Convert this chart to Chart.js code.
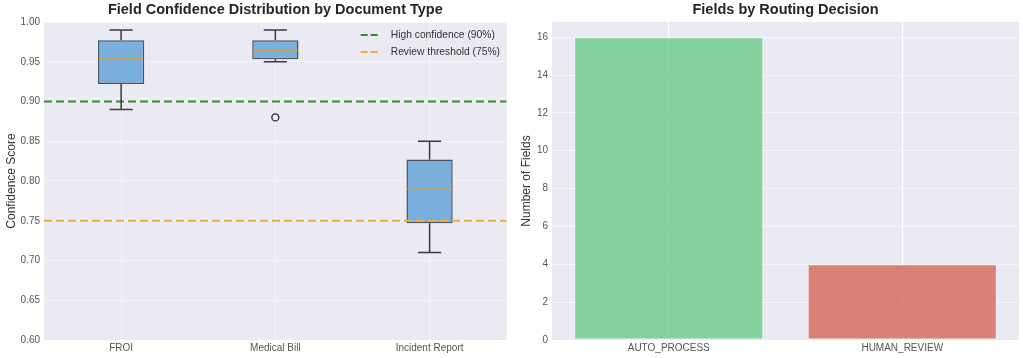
<!DOCTYPE html>
<html>
<head>
<meta charset="utf-8">
<script src="https://cdn.jsdelivr.net/npm/chart.js@4.4.1/dist/chart.umd.min.js"></script>
<style>
  html, body { margin: 0; padding: 0; background: #ffffff; }
  #wrap { position: relative; width: 1023px; height: 358px; overflow: hidden; }
  #left { position: absolute; left: 0; top: 0; }
  #right { position: absolute; left: 512px; top: 0; }
</style>
</head>
<body>
<div id="wrap">
  <canvas id="left" width="512" height="358"></canvas>
  <canvas id="right" width="511" height="358"></canvas>
</div>
<script>
// ---------- data ----------
const docTypes = ['FROI', 'Medical Bill', 'Incident Report'];
const whiskerLow = [0.89, 0.95, 0.71];
const q1 = [0.922, 0.953, 0.747];
const median = [0.954, 0.964, 0.79];
const q3 = [0.977, 0.977, 0.827];
const whiskerHigh = [0.99, 0.99, 0.85];
const outliers = [[], [0.88], []];
const thresholdLabels = ['High confidence (90%)', 'Review threshold (75%)'];
const thresholdValues = [0.90, 0.75];
const confTicks = [0.60, 0.65, 0.70, 0.75, 0.80, 0.85, 0.90, 0.95, 1.00];

const routes = ['AUTO_PROCESS', 'HUMAN_REVIEW'];
const routeCounts = [16, 4];
const countTicks = [0, 2, 4, 6, 8, 10, 12, 14, 16];

// ---------- styles ----------
Chart.defaults.font.family = "'Liberation Sans', Arial, sans-serif";
Chart.defaults.color = '#333';
const PLOT_BG = '#eaeaf2';
const TICK_COLOR = '#555';
const thresholdColors = ['#3a8a2e', '#f4aa3c'];

const bgPlugin = {
  id: 'plotBg',
  beforeDraw(chart) {
    const { ctx, chartArea: a } = chart;
    ctx.save();
    ctx.fillStyle = PLOT_BG;
    ctx.fillRect(a.left, a.top, a.right - a.left, a.bottom - a.top);
    ctx.restore();
  }
};

const boxPlugin = {
  id: 'boxDetails',
  afterDatasetsDraw(chart) {
    const { ctx } = chart;
    const ys = chart.scales.y;
    const meta = chart.getDatasetMeta(0);
    ctx.save();
    docTypes.forEach((d, i) => {
      const cx = meta.data[i].x;
      const bw = meta.data[i].width;
      const capHalf = bw / 4;
      ctx.strokeStyle = '#3a3a3a';
      ctx.lineWidth = 1.5;
      ctx.beginPath();
      ctx.moveTo(cx, ys.getPixelForValue(q3[i]));
      ctx.lineTo(cx, ys.getPixelForValue(whiskerHigh[i]));
      ctx.moveTo(cx - capHalf, ys.getPixelForValue(whiskerHigh[i]));
      ctx.lineTo(cx + capHalf, ys.getPixelForValue(whiskerHigh[i]));
      ctx.moveTo(cx, ys.getPixelForValue(q1[i]));
      ctx.lineTo(cx, ys.getPixelForValue(whiskerLow[i]));
      ctx.moveTo(cx - capHalf, ys.getPixelForValue(whiskerLow[i]));
      ctx.lineTo(cx + capHalf, ys.getPixelForValue(whiskerLow[i]));
      ctx.stroke();
      ctx.strokeStyle = '#c4a460';
      ctx.lineWidth = 1.5;
      ctx.beginPath();
      const my = ys.getPixelForValue(median[i]);
      ctx.moveTo(cx - bw / 2 + 1, my);
      ctx.lineTo(cx + bw / 2 - 1, my);
      ctx.stroke();
    });
    ctx.restore();
  }
};

const legendPlugin = {
  id: 'innerLegend',
  afterDraw(chart) {
    const { ctx, chartArea: a } = chart;
    ctx.save();
    ctx.font = "10.3px 'Liberation Sans', Arial, sans-serif";
    const textX = a.right - 116;
    const lineX1 = textX - 10;
    const lineX0 = lineX1 - 20;
    thresholdLabels.forEach((t, i) => {
      const y = a.top + 13 + i * 17;
      ctx.strokeStyle = thresholdColors[i];
      ctx.lineWidth = 2;
      ctx.setLineDash([7, 3]);
      ctx.beginPath();
      ctx.moveTo(lineX0, y);
      ctx.lineTo(lineX1, y);
      ctx.stroke();
      ctx.setLineDash([]);
      ctx.fillStyle = '#333';
      ctx.textBaseline = 'middle';
      ctx.textAlign = 'left';
      ctx.fillText(t, textX, y);
    });
    ctx.restore();
  }
};

// ---------- left: box plot ----------
const boxDatasets = [
  {
    type: 'bar',
    label: 'box',
    data: docTypes.map((d, i) => [q1[i], q3[i]]),
    backgroundColor: 'rgb(122,174,220)',
    borderColor: '#4a525c',
    borderWidth: 1.5,
    borderSkipped: false,
    grouped: false,
    barPercentage: 0.30,
    categoryPercentage: 1.0,
    order: 3
  },
  {
    type: 'line',
    label: 'outliers',
    data: outliers.flatMap((arr, i) => arr.map(v => ({ x: docTypes[i], y: v }))),
    showLine: false,
    pointRadius: 3.5,
    pointBorderWidth: 1.3,
    pointBorderColor: '#222',
    pointBackgroundColor: 'rgba(0,0,0,0)',
    order: 2
  }
];
thresholdValues.forEach((v, i) => {
  boxDatasets.push({
    type: 'line',
    label: thresholdLabels[i],
    xAxisID: 'x2',
    data: [{ x: 0, y: v }, { x: 1, y: v }],
    borderColor: thresholdColors[i],
    borderWidth: 2,
    borderDash: [8, 4],
    pointRadius: 0,
    order: 0
  });
});

const titleFont = { size: 14.5, weight: 'bold' };
const titlePad = { top: 1.5, bottom: 3.1 };

new Chart(document.getElementById('left'), {
  type: 'bar',
  data: { labels: docTypes, datasets: boxDatasets },
  options: {
    responsive: false,
    animation: false,
    devicePixelRatio: 1,
    layout: { padding: { left: 0, right: 2, top: 0, bottom: 0 } },
    plugins: {
      legend: { display: false },
      tooltip: { enabled: false },
      title: {
        display: true,
        text: 'Field Confidence Distribution by Document Type',
        fullSize: false,
        color: '#262626',
        font: titleFont,
        padding: titlePad
      }
    },
    scales: {
      x: {
        type: 'category',
        offset: true,
        grid: { display: true, offset: false, color: 'rgba(255,255,255,0.45)', lineWidth: 1, drawTicks: false },
        border: { display: false },
        ticks: { color: TICK_COLOR, font: { size: 10 }, padding: 2 },
        afterFit(s) { s.height = 18; }
      },
      x2: { type: 'linear', min: 0, max: 1, offset: false, display: false },
      y: {
        type: 'linear',
        min: confTicks[0],
        max: confTicks[confTicks.length - 1],
        afterBuildTicks(s) { s.ticks = confTicks.map(v => ({ value: v })); },
        grid: { color: 'rgba(255,255,255,0.45)', lineWidth: 1, drawTicks: false },
        border: { display: false },
        ticks: { color: TICK_COLOR, font: { size: 10 }, padding: 4, callback: v => Number(v).toFixed(2) },
        title: { display: true, text: 'Confidence Score', color: '#333', font: { size: 12 }, padding: { top: 4.8, bottom: 0 } },
        afterFit(s) { s.width = 44; }
      }
    }
  },
  plugins: [bgPlugin, boxPlugin, legendPlugin]
});

// ---------- right: bar chart ----------
new Chart(document.getElementById('right'), {
  type: 'bar',
  data: {
    labels: routes,
    datasets: [{
      label: 'Number of Fields',
      data: routeCounts,
      backgroundColor: ['rgba(105,204,136,0.8)', 'rgba(212,102,87,0.8)'],
      borderColor: ['rgba(255,255,255,0.35)', 'rgba(255,255,255,0.35)'],
      borderWidth: 1,
      borderSkipped: false,
      barPercentage: 0.81,
      categoryPercentage: 1.0
    }]
  },
  options: {
    responsive: false,
    animation: false,
    devicePixelRatio: 1,
    layout: { padding: { left: 0, right: 4, top: 0, bottom: 0 } },
    plugins: {
      legend: { display: false },
      tooltip: { enabled: false },
      title: {
        display: true,
        text: 'Fields by Routing Decision',
        fullSize: false,
        color: '#262626',
        font: titleFont,
        padding: titlePad
      }
    },
    scales: {
      x: {
        offset: true,
        grid: { display: true, offset: false, color: '#ffffff', lineWidth: 1.2, drawTicks: false },
        border: { display: false },
        ticks: { color: TICK_COLOR, font: { size: 10 }, padding: 2 },
        afterFit(s) { s.height = 18; }
      },
      y: {
        min: 0,
        max: 16.8,
        afterBuildTicks(s) { s.ticks = countTicks.map(v => ({ value: v })); },
        grid: { color: 'rgba(255,255,255,0.55)', lineWidth: 1, drawTicks: false },
        border: { display: false },
        ticks: { color: TICK_COLOR, font: { size: 10 }, padding: 4 },
        title: { display: true, text: 'Number of Fields', color: '#333', font: { size: 12 }, padding: { top: 7.8, bottom: 0 } },
        afterFit(s) { s.width = 40; }
      }
    }
  },
  plugins: [bgPlugin]
});
</script>
</body>
</html>
